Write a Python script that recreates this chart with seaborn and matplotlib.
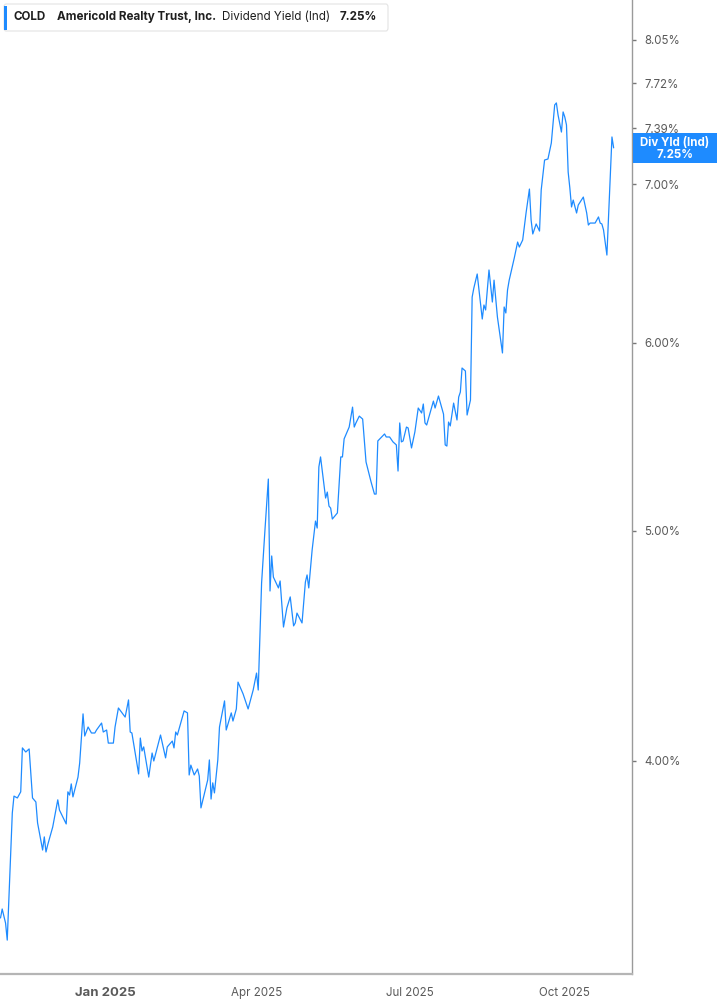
import pandas as pd
import matplotlib
matplotlib.use("Agg")
import matplotlib.pyplot as plt
import seaborn as sns
from matplotlib.patches import FancyBboxPatch, Rectangle
from matplotlib.ticker import FixedLocator, NullLocator

# data (days counted from 2025-01-01, yield in %)
base_date = pd.Timestamp("2025-01-01")
day_offsets = [
    -62, -61, -59, -58, -55, -54, -52, -50, -49, -47, -45, -43, -41, -40, -37, -36,
    -35, -34, -31, -28, -27, -23, -22, -21, -20, -19, -16, -15, -13, -12, -10, -8,
    -6, -5, -2, -1, 1, 2, 5, 6, 8, 12, 14, 15, 16, 20, 21, 22, 23, 26, 28, 29,
    33, 36, 37, 40, 41, 42, 43, 47, 49, 50, 51, 53, 55, 56, 57, 61, 62, 63, 64, 65,
    67, 68, 71, 72, 75, 76, 78, 79, 82, 85, 88, 90, 91, 93, 95, 97, 98, 99, 100, 103,
    104, 106, 108, 110, 112, 113, 114, 117, 119, 120, 121, 123, 125, 126, 127, 128,
    131, 132, 133, 134, 135, 138, 140, 141, 142, 145, 147, 148, 149, 151, 153, 155,
    158, 160, 161, 162, 166, 167, 169, 171, 173, 174, 175, 176, 177, 179, 180, 182,
    184, 186, 188, 189, 190, 191, 195, 196, 198, 201, 202, 203, 204, 205, 207, 209,
    210, 211, 212, 214, 215, 217, 218, 219, 221, 224, 225, 226, 228, 230, 231, 233,
    236, 237, 238, 239, 240, 243, 245, 246, 248, 250, 252, 253, 254, 256, 258, 259,
    261, 263, 265, 267, 268, 269, 271, 272, 273, 274, 275, 276, 277, 278, 280, 281,
    284, 286, 287, 288, 291, 293, 294, 295, 296, 298, 301, 302,
]
div_yield = [
    3.435, 3.465, 3.418, 3.362, 3.803, 3.866, 3.859, 3.882, 4.051, 4.035, 4.047, 3.859,
    3.844, 3.767, 3.669, 3.716, 3.662, 3.687, 3.752, 3.852, 3.814, 3.763, 3.882, 3.870,
    3.912, 3.863, 3.938, 3.992, 4.187, 4.098, 4.134, 4.110, 4.110, 4.122, 4.150, 4.114,
    4.122, 4.070, 4.070, 4.134, 4.211, 4.174, 4.244, 4.114, 4.110, 3.950, 4.090, 4.039,
    4.055, 3.938, 4.031, 4.000, 4.102, 4.012, 4.055, 4.078, 4.051, 4.114, 4.102, 4.199,
    4.191, 3.946, 3.984, 3.946, 3.969, 3.942, 3.822, 3.927, 4.004, 3.855, 3.916, 3.878,
    4.004, 4.134, 4.240, 4.122, 4.191, 4.158, 4.207, 4.318, 4.269, 4.207, 4.285, 4.356,
    4.285, 4.754, 5.005, 5.258, 4.717, 4.880, 4.781, 4.731, 4.763, 4.555, 4.640, 4.690,
    4.560, 4.573, 4.617, 4.573, 4.758, 4.791, 4.731, 4.908, 5.048, 5.014, 5.320, 5.372,
    5.162, 5.192, 5.122, 5.112, 5.058, 5.088, 5.372, 5.372, 5.467, 5.530, 5.638, 5.530,
    5.552, 5.589, 5.573, 5.346, 5.243, 5.182, 5.182, 5.456, 5.493, 5.477, 5.477, 5.451,
    5.435, 5.299, 5.552, 5.451, 5.456, 5.530, 5.525, 5.419, 5.504, 5.633, 5.606, 5.655,
    5.552, 5.541, 5.671, 5.633, 5.699, 5.600, 5.435, 5.429, 5.557, 5.536, 5.660, 5.568,
    5.693, 5.721, 5.856, 5.839, 5.595, 5.677, 6.273, 6.328, 6.415, 6.141, 6.225, 6.195,
    6.440, 6.243, 6.377, 6.153, 5.942, 6.213, 6.177, 6.316, 6.377, 6.515, 6.617, 6.585,
    6.630, 6.806, 6.966, 6.760, 6.669, 6.734, 6.688, 6.960, 7.165, 7.172, 7.284, 7.558,
    7.573, 7.485, 7.362, 7.507, 7.470, 7.413, 7.082, 6.973, 6.846, 6.892, 6.806, 6.859,
    6.912, 6.806, 6.727, 6.740, 6.740, 6.780, 6.740, 6.734, 6.695, 6.534, 7.327, 7.250,
]
ytick_values = [4.00, 5.00, 6.00, 7.00, 7.39, 7.72, 8.05]
xtick_dates = ["2025-01-01", "2025-04-01", "2025-07-01", "2025-10-01"]
xtick_labels = ["Jan 2025", "Apr 2025", "Jul 2025", "Oct 2025"]
last_value = div_yield[-1]

df = pd.DataFrame({
    "date": base_date + pd.to_timedelta(day_offsets, unit="D"),
    "yield": div_yield,
})

sns.set_style("white")
plt.rcParams["font.family"] = ["Inter", "DejaVu Sans"]

W, H = 717, 1005
fig = plt.figure(figsize=(W / 100, H / 100), dpi=100)
ax = fig.add_axes([0, 1 - 974 / H, 632 / W, 974 / H])

blue = "#1e8bff"
sns.lineplot(data=df, x="date", y="yield", ax=ax, color=blue, linewidth=0.9,
             estimator=None, sort=False)

ax.set_yscale("log")
ax.set_ylim(3.2533, 8.368)
ax.set_xlim(base_date + pd.Timedelta(days=-62.3), base_date + pd.Timedelta(days=312.9))

ax.yaxis.set_major_locator(FixedLocator(ytick_values))
ax.yaxis.set_minor_locator(NullLocator())
ax.set_yticklabels([f"{v:.2f}%" for v in ytick_values])
ax.yaxis.tick_right()
ax.tick_params(axis="y", length=3, width=1, color="#777777", pad=6,
               labelsize=8.3, labelcolor="#5a5a5a")

ax.set_xticks(pd.to_datetime(xtick_dates))
ax.set_xticklabels(xtick_labels)
ax.xaxis.set_minor_locator(NullLocator())
ax.tick_params(axis="x", length=5, width=1, color="#777777", pad=4,
               labelsize=8.3, labelcolor="#5a5a5a")
jan = ax.get_xticklabels()[0]
jan.set_fontweight("bold")
jan.set_fontsize(9.5)

ax.set_xlabel("")
ax.set_ylabel("")
for s in ["left", "top"]:
    ax.spines[s].set_visible(False)
ax.spines["right"].set_color("#9a9a9a")
ax.spines["right"].set_linewidth(1.0)
ax.spines["bottom"].set_color("#b5b5b5")
ax.spines["bottom"].set_linewidth(1.6)


def fx(x):
    return x / W


def fy(y):
    return 1 - y / H


# legend box top left
fig.patches.append(FancyBboxPatch((fx(4), fy(31)), fx(384), 27 / H,
                                  boxstyle="round,pad=0,rounding_size=0.003",
                                  transform=fig.transFigure, facecolor="white",
                                  edgecolor="#e3e3e3", linewidth=0.8, zorder=5))
fig.patches.append(Rectangle((fx(4), fy(30)), 3 / W, 24 / H, transform=fig.transFigure,
                             facecolor=blue, edgecolor="none", zorder=6))
ty = fy(17)
fig.text(fx(14), ty, "COLD", fontsize=8.4, fontweight="bold", color="#1f1f1f",
         va="center", zorder=7)
fig.text(fx(57), ty, "Americold Realty Trust, Inc.", fontsize=8.4, fontweight="bold",
         color="#1f1f1f", va="center", zorder=7)
fig.text(fx(222), ty, "Dividend Yield (Ind)", fontsize=8.4, color="#1f1f1f",
         va="center", zorder=7)
fig.text(fx(340), ty, f"{last_value:.2f}%", fontsize=8.4, fontweight="bold",
         color="#1f1f1f", va="center", zorder=7)

# last value tag on the right axis
fig.patches.append(Rectangle((fx(633), fy(163)), fx(84), 30 / H, transform=fig.transFigure,
                             facecolor=blue, edgecolor="none", zorder=6))
fig.text(fx(675), fy(143), "Div Yld (Ind)", fontsize=8.3, fontweight="bold",
         color="white", ha="center", va="center", zorder=7)
fig.text(fx(675), fy(155), f"{last_value:.2f}%", fontsize=8.3, fontweight="bold",
         color="white", ha="center", va="center", zorder=7)

fig.savefig("out.png", dpi=100, facecolor="white")
